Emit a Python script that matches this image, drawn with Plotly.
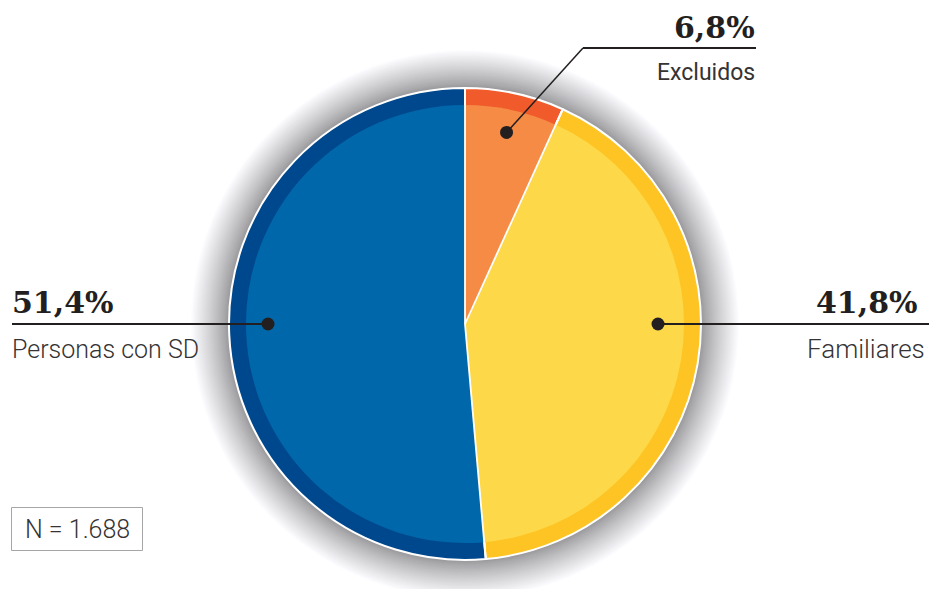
import math
import plotly.graph_objects as go

# --- data -------------------------------------------------------------
labels = ["Excluidos", "Familiares", "Personas con SD"]
values = [6.8, 41.8, 51.4]
value_text = ["6,8%", "41,8%", "51,4%"]
fill_colors = ["#f58b45", "#fdd848", "#0068aa"]
rim_colors = ["#f15a2b", "#fec424", "#00488d"]
sample_note = "N = 1.688"

# --- geometry (pixel space) ------------------------------------------
W, H = 929, 589
CX, CY = 465, 324          # pie centre
R_OUT = 236                # outer radius (rim)
R_IN = 219                 # inner radius of the lighter fill
R_GLOW = 274               # extent of the grey halo
INK = "#231f20"

fig = go.Figure()


def pie_domain(r):
    return dict(x=[(CX - r) / W, (CX + r) / W],
                y=[(H - CY - r) / H, (H - CY + r) / H])


common = dict(labels=labels, values=values, sort=False, direction="clockwise",
              rotation=0, textinfo="none", hoverinfo="skip", showlegend=False)

fig.add_trace(go.Pie(domain=pie_domain(R_OUT),
                     marker=dict(colors=rim_colors, line=dict(color="white", width=2)),
                     **common))
fig.add_trace(go.Pie(domain=pie_domain(R_IN),
                     marker=dict(colors=fill_colors, line=dict(width=0)),
                     **common))

shapes = []

# grey halo: stacked discs from the outside in
steps = 40
for i in range(steps + 1):
    t = 1 - i / steps
    r = R_OUT + 1 + (R_GLOW - R_OUT) * t
    lvl = 152 + 103 * (t ** 0.85)
    g = int(round(lvl))
    shapes.append(dict(type="circle", layer="below", xref="x", yref="y",
                       x0=CX - r, x1=CX + r, y0=CY - r, y1=CY + r,
                       line=dict(width=0), fillcolor=f"rgb({g},{g},{min(255, g + 3)})"))

# white separators between slices, at the cumulative boundaries
total = sum(values)
acc = 0.0
for v in values:
    ang = math.radians(acc / total * 360)
    shapes.append(dict(type="line", layer="above", xref="x", yref="y",
                       x0=CX, y0=CY,
                       x1=CX + R_OUT * math.sin(ang), y1=CY - R_OUT * math.cos(ang),
                       line=dict(color="white", width=1.8)))
    acc += v


def polar(ang_deg, r):
    a = math.radians(ang_deg)
    return CX + r * math.sin(a), CY - r * math.cos(a)


# mid-angle of each slice
mids = []
acc = 0.0
for v in values:
    mids.append((acc + v / 2) / total * 360)
    acc += v

annotations = []

def dot(x, y):
    shapes.append(dict(type="circle", layer="above", xref="x", yref="y",
                       x0=x - 6.5, x1=x + 6.5, y0=y - 6.5, y1=y + 6.5,
                       line=dict(width=0), fillcolor=INK))


def line(x0, y0, x1, y1, w=2):
    shapes.append(dict(type="line", layer="above", xref="x", yref="y",
                       x0=x0, y0=y0, x1=x1, y1=y1, line=dict(color=INK, width=w)))


def big(text, x, y, anchor):
    annotations.append(dict(text=text, x=x, y=y, xref="x", yref="y", xanchor=anchor,
                            yanchor="middle", showarrow=False,
                            font=dict(family="DejaVu Serif", size=30, color=INK, weight=700)))


def small(text, x, y, anchor, size=22, weight=300):
    annotations.append(dict(text=text, x=x, y=y, xref="x", yref="y", xanchor=anchor,
                            yanchor="middle", showarrow=False,
                            font=dict(family="Roboto", size=size, color="#353333", weight=weight)))


# Excluidos: leader from the slice centre up to a shelf line
ex, ey = polar(mids[0], 196)
dot(ex, ey)
line(ex, ey, 583, 48, 1.5)
line(583, 48, 756, 48)
big(value_text[0], 757, 27, "right")
small(labels[0], 757, 72, "right", 23, 400)

# Familiares: horizontal leader to the right edge
fx, fy = polar(90, 193)
dot(fx, fy)
line(fx, fy, W, fy)
big(value_text[1], 920, 302, "right")
small(labels[1], 927, 349, "right", 26)

# Personas con SD: horizontal leader to the left
px, py = polar(270, 197)
dot(px, py)
line(12, py, px, py)
big(value_text[2], 10, 302, "left")
small(labels[2], 10, 349, "left", 25)

# sample size box
shapes.append(dict(type="rect", layer="above", xref="x", yref="y",
                   x0=11.5, x1=142.5, y0=507.5, y1=550.5,
                   line=dict(color="#a6a6a6", width=1), fillcolor="white"))
small(sample_note, 77, 529, "center", 25)

fig.update_layout(
    width=W, height=H, autosize=False,
    margin=dict(l=0, r=0, t=0, b=0),
    paper_bgcolor="white", plot_bgcolor="white",
    xaxis=dict(range=[0, W], visible=False, fixedrange=True),
    yaxis=dict(range=[H, 0], visible=False, fixedrange=True),
    shapes=shapes, annotations=annotations,
)

fig.write_html("out.html", post_script="document.body.style.margin='0px';")
